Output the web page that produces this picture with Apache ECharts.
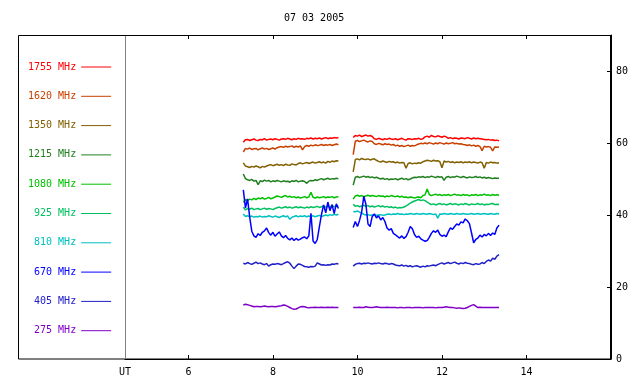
<!DOCTYPE html>
<html>
<head>
<meta charset="utf-8">
<script src="https://cdn.jsdelivr.net/npm/echarts@6/dist/echarts.min.js"></script>
<style>html,body{margin:0;padding:0;background:#fff}#c{width:640px;height:384px}</style>
</head>
<body>
<div id="c"></div>
<script>
// ---- data ----
var titleText = '07 03 2005';
var bandNames = ['1755 MHz','1620 MHz','1350 MHz','1215 MHz','1080 MHz','925 MHz','810 MHz','670 MHz','405 MHz','275 MHz'];
var bandColors = ['#ff0000','#c84000','#806000','#208020','#00c000','#00c060','#00c0c0','#0000ff','#2020c8','#8000c8'];
var xTickValues = [6, 8, 10, 12, 14];
var xTickLabels = ['6', '8', '10', '12', '14'];
var xUnitLabel = 'UT';
var yTickValues = [0, 20, 40, 60, 80];
var segA = [7.30, 9.55];   // UT hours, first observing segment
var segB = [9.90, 13.35];  // UT hours, second observing segment

var f1755a = [60.2,60.9,61.0,60.7,60.9,61.1,60.8,60.7,61.0,60.9,61.2,60.8,61.0,61.1,60.9,61.2,61.0,60.8,61.1,61.2,61.0,61.3,61.1,60.9,61.2,61.0,61.3,61.1,61.2,61.0,61.3,61.2,61.4,61.1,61.3,61.2,61.4,61.1,61.3,61.5,61.2,61.4,61.3,61.5,61.4,61.5];
var f1755b = [61.5,62.1,61.9,62.2,61.8,62.0,62.2,61.9,62.1,61.8,61.2,61.0,61.3,61.1,60.9,61.2,61.0,61.3,61.1,61.0,61.2,60.9,61.1,61.3,61.0,60.8,61.2,61.1,61.0,61.2,61.1,61.3,61.0,61.2,61.7,61.9,61.6,62.1,61.8,61.7,62.0,61.8,61.6,61.9,61.7,61.3,61.5,61.2,61.4,61.3,61.1,61.4,61.3,61.2,61.5,61.3,61.1,61.4,61.2,61.3,61.2,61.1,61.0,60.9,61.0,60.8,60.9,60.7,60.8,60.6];
var f1620a = [57.5,58.5,58.3,58.6,58.2,58.4,58.5,58.1,58.4,58.6,58.3,58.5,58.2,58.4,58.6,58.3,58.7,58.9,59.0,58.8,59.1,58.9,59.0,59.2,58.8,59.1,58.9,59.2,58.1,59.0,59.3,59.1,59.4,59.2,59.5,59.3,59.4,59.6,59.3,59.5,59.4,59.6,59.3,59.5,59.7,59.5];
var f1620b = [56.8,60.5,60.7,60.4,60.6,60.8,60.5,60.3,60.6,60.4,59.8,59.6,59.9,59.7,59.5,59.8,59.6,59.7,59.4,59.6,59.2,59.4,59.1,59.3,59.0,59.2,59.4,59.1,59.3,59.2,59.5,59.7,59.9,59.8,60.0,59.8,60.1,59.9,59.7,60.0,59.8,60.1,59.9,59.7,60.0,59.8,59.9,60.1,59.8,59.9,59.7,59.8,59.6,59.5,59.3,59.5,59.2,59.4,59.1,59.3,59.0,57.9,59.1,58.9,59.0,58.8,57.8,58.9,58.8,58.9];
var f1350a = [54.5,53.6,53.4,53.2,53.5,53.3,53.6,53.4,53.1,53.5,53.3,53.6,53.8,54.0,53.7,53.9,54.1,53.8,54.0,53.7,54.1,53.9,53.8,54.2,54.0,53.9,54.3,54.5,54.2,54.4,54.6,54.3,54.5,54.7,54.4,54.6,54.8,54.5,54.7,54.4,54.9,54.6,55.0,54.8,55.1,55.0];
var f1350b = [52.0,55.4,55.6,55.3,55.7,55.5,55.4,55.6,55.3,55.5,55.6,55.2,54.9,54.7,55.0,54.8,54.6,54.9,54.7,54.8,54.5,54.7,54.4,54.6,54.5,53.0,54.3,54.5,54.2,54.4,54.3,54.5,54.4,54.8,55.0,55.2,55.1,54.9,55.2,55.0,55.1,54.8,53.1,55.0,54.7,54.9,54.6,54.8,54.5,54.7,54.6,54.8,54.5,54.7,54.6,54.8,54.5,54.7,54.6,54.4,54.7,54.5,53.0,54.6,54.4,54.7,54.5,54.6,54.4,54.5];
var f1215a = [51.4,50.1,49.8,49.6,49.9,49.4,49.6,48.4,49.5,49.3,49.7,49.4,49.6,49.2,49.5,49.3,49.6,49.4,49.2,49.5,49.3,49.4,49.1,49.5,49.3,49.6,49.2,49.4,49.5,49.3,48.8,49.4,49.6,49.5,49.8,49.6,49.9,50.1,49.8,50.0,50.2,49.9,50.1,50.0,50.2,50.1];
var f1215b = [48.3,50.5,50.7,50.4,50.6,50.8,50.5,50.7,50.4,50.6,50.3,50.5,50.2,50.0,50.2,49.9,50.1,49.8,50.0,49.9,50.1,49.8,50.0,50.2,49.9,50.1,49.8,50.0,50.3,50.5,50.4,50.6,50.5,50.7,50.4,50.6,50.5,50.8,50.6,50.4,50.7,50.5,50.6,49.6,50.5,50.7,50.4,50.6,50.5,50.8,50.6,50.4,50.7,50.5,50.3,50.6,50.4,50.5,50.7,50.4,50.6,50.3,50.5,50.2,50.4,50.3,50.1,50.3,50.2,50.2];
var f1080a = [43.5,44.3,44.0,44.4,44.2,44.6,44.3,44.7,44.5,44.8,44.4,44.6,44.9,44.5,44.7,45.0,45.3,45.1,44.9,45.2,45.4,45.0,45.2,44.9,45.1,44.8,45.0,44.7,44.9,45.1,44.8,45.0,46.3,44.9,44.7,45.0,44.8,44.9,45.1,44.8,45.0,44.9,45.1,44.8,45.0,45.1];
var f1080b = [44.4,45.3,45.5,45.2,45.4,45.1,45.3,45.5,45.2,45.4,45.3,45.1,45.4,45.2,45.3,45.0,45.3,45.1,45.4,45.2,45.1,45.3,45.0,45.2,44.9,45.0,44.8,45.0,44.9,44.7,44.9,45.0,44.8,45.4,45.6,47.2,45.7,45.4,45.6,45.8,45.5,45.7,45.4,45.6,45.5,45.7,45.4,45.6,45.8,45.5,45.6,45.4,45.7,45.5,45.6,45.3,45.6,45.5,45.7,45.4,45.6,45.5,45.8,45.5,45.6,45.4,45.7,45.5,45.6,45.5];
var f925a = [42.2,41.4,41.8,41.6,41.9,41.5,41.7,41.8,41.5,41.7,41.9,41.6,41.8,41.7,41.5,41.8,42.0,42.2,41.9,42.1,42.3,42.0,42.2,41.9,42.1,42.3,42.0,42.2,42.1,41.9,42.2,42.0,42.3,42.1,42.2,42.4,42.1,42.3,42.5,42.2,42.4,42.1,42.6,42.3,42.5,42.4];
var f925b = [43.0,42.4,42.6,42.3,42.5,42.7,42.4,42.6,42.3,42.5,42.2,42.4,42.6,42.3,42.5,42.2,42.4,42.1,42.3,42.0,42.2,41.9,42.1,42.0,42.2,42.5,42.9,43.3,43.6,43.9,44.1,44.3,44.0,44.2,44.0,43.6,43.2,42.9,43.1,42.8,43.0,43.2,42.9,43.1,42.8,43.0,43.2,42.9,43.1,43.0,42.8,43.1,42.9,43.2,43.0,42.8,43.1,42.9,43.0,43.2,42.9,43.1,42.8,43.0,42.9,43.1,43.2,42.9,43.0,42.9];
var f810a = [40.3,39.6,39.8,39.5,39.7,39.4,39.6,39.5,39.7,39.4,39.6,39.5,39.8,39.6,39.4,39.7,39.5,39.3,39.6,39.8,39.5,39.7,38.8,39.4,39.6,39.8,39.5,39.7,39.6,39.8,39.5,39.7,39.6,39.8,39.5,39.7,39.9,39.6,39.8,40.0,39.8,40.1,39.9,40.2,40.0,40.2];
var f810b = [41.0,40.9,41.1,40.8,40.5,40.2,40.0,40.1,39.9,40.0,40.1,39.9,40.0,40.1,39.9,40.0,40.2,40.3,40.1,40.3,40.2,40.4,40.2,40.3,40.1,40.3,40.2,40.4,40.3,40.2,40.4,40.3,40.2,40.4,40.3,40.2,40.4,40.3,40.1,40.3,39.1,40.3,40.2,40.4,40.3,40.2,40.4,40.3,40.2,40.4,40.3,40.2,40.4,40.3,40.2,40.3,40.4,40.2,40.3,40.4,40.2,40.3,40.4,40.3,40.2,40.4,40.3,40.2,40.4,40.3];
var f670a = [47.0,42.0,44.5,39.5,35.5,34.2,33.8,34.8,34.3,35.2,35.6,36.4,35.1,34.4,35.2,34.1,34.7,35.3,34.2,33.7,34.3,33.5,33.1,33.6,32.9,33.5,33.0,33.3,33.7,33.9,33.4,34.2,40.5,32.8,32.1,33.2,36.8,40.2,42.8,40.6,43.6,41.2,42.9,40.4,43.1,41.8];
var f670b = [36.5,38.2,36.8,38.5,40.8,45.2,43.0,37.5,36.8,39.6,40.3,39.2,39.8,38.6,39.3,38.2,36.4,35.8,36.2,34.9,34.5,34.0,33.6,34.2,33.5,34.0,35.2,36.8,36.2,34.6,33.8,34.1,33.4,33.0,32.7,32.9,33.8,34.9,35.6,35.2,35.8,34.6,34.1,34.4,34.0,35.3,36.4,36.0,36.8,37.5,37.2,38.1,37.8,38.9,38.4,37.6,35.0,32.3,33.2,33.6,34.4,33.9,34.6,34.2,34.9,34.3,35.0,34.6,36.4,37.2];
var f405a = [26.6,26.4,26.8,26.5,26.3,26.6,26.9,26.5,26.7,26.4,26.2,26.5,25.8,26.2,26.4,26.3,26.5,26.4,26.2,26.5,26.8,27.0,26.6,25.8,25.1,25.8,26.4,26.3,26.0,25.7,25.6,25.5,25.7,25.6,25.8,26.7,26.4,26.1,26.2,26.0,26.2,26.1,26.4,26.3,26.5,26.4];
var f405b = [25.8,26.3,26.5,26.6,26.4,26.6,26.5,26.7,26.5,26.4,26.6,26.5,26.7,26.5,26.4,26.6,26.5,26.3,26.5,26.4,26.1,26.0,25.9,26.1,25.8,26.0,25.7,25.9,25.6,25.8,25.9,25.7,25.5,25.8,25.6,25.9,25.8,26.0,26.1,25.9,26.2,26.5,26.7,26.4,26.6,26.8,26.5,26.7,26.9,26.6,26.4,26.7,26.5,26.8,26.6,26.5,26.3,26.2,26.5,26.3,26.4,26.8,26.5,27.1,27.5,27.2,28.0,27.7,28.6,29.0];
var f275a = [15.0,15.2,15.1,14.9,14.7,14.5,14.6,14.6,14.5,14.6,14.7,14.6,14.5,14.6,14.6,14.5,14.6,14.7,14.8,15.0,14.9,14.6,14.3,14.0,13.8,13.9,14.2,14.5,14.6,14.5,14.3,14.2,14.3,14.3,14.4,14.3,14.3,14.4,14.3,14.3,14.4,14.3,14.4,14.3,14.3,14.3];
var f275b = [14.3,14.3,14.3,14.4,14.3,14.3,14.5,14.4,14.3,14.3,14.4,14.5,14.4,14.3,14.3,14.3,14.4,14.3,14.3,14.3,14.3,14.2,14.3,14.3,14.2,14.3,14.3,14.3,14.2,14.3,14.3,14.3,14.3,14.2,14.3,14.3,14.3,14.3,14.3,14.2,14.3,14.3,14.3,14.4,14.5,14.4,14.3,14.3,14.2,14.1,14.2,14.1,14.0,14.1,14.3,14.6,14.9,15.1,14.7,14.3,14.4,14.3,14.3,14.3,14.3,14.3,14.3,14.3,14.3,14.3];

var bandA = [f1755a,f1620a,f1350a,f1215a,f1080a,f925a,f810a,f670a,f405a,f275a];
var bandB = [f1755b,f1620b,f1350b,f1215b,f1080b,f925b,f810b,f670b,f405b,f275b];

// ---- build ----
function place(seg, vals, out) {
  var n = vals.length;
  for (var i = 0; i < n; i++) {
    out.push([seg[0] + (seg[1] - seg[0]) * i / (n - 1), vals[i]]);
  }
}
var series = bandNames.map(function (name, k) {
  var d = [];
  place(segA, bandA[k], d);
  d.push([(segA[1] + segB[0]) / 2, '-']);
  place(segB, bandB[k], d);
  return {
    name: name, type: 'line', data: d, symbol: 'none', showSymbol: false,
    connectNulls: false, xAxisIndex: 0, yAxisIndex: 0,
    lineStyle: { color: bandColors[k], width: 1.5 }, itemStyle: { color: bandColors[k] },
    emphasis: { disabled: true }, silent: true
  };
});

var font = '"DejaVu Sans Mono", monospace';
var chart = echarts.init(document.getElementById('c'), null, { renderer: 'canvas' });
chart.setOption({
  animation: false,
  backgroundColor: '#fff',
  title: {
    text: titleText, left: 279, top: 8,
    textStyle: { fontFamily: font, fontSize: 10, fontWeight: 'normal', color: '#000' }
  },
  legend: {
    orient: 'vertical', left: 23, top: 57, align: 'right',
    itemWidth: 30, itemHeight: 10, itemGap: 19.3,
    selectedMode: false,
    itemStyle: { opacity: 0 },
    lineStyle: { width: 1 },
    textStyle: { fontFamily: font, fontSize: 10, lineHeight: 10 },
    data: bandNames.map(function (n, k) { return { name: n, textStyle: { color: bandColors[k] } }; })
  },
  grid: { left: 125, right: 29, top: 35, bottom: 25, containLabel: false },
  xAxis: [{
    type: 'value', min: 4.5, max: 16, position: 'bottom',
    axisLine: { show: true, lineStyle: { color: '#000', width: 1 } },
    axisTick: { show: true, inside: true, length: 4, lineStyle: { color: '#000' }, customValues: xTickValues },
    axisLabel: {
      show: true, customValues: [4.5].concat(xTickValues), margin: 8,
      fontFamily: font, fontSize: 10, color: '#000',
      formatter: function (v) {
        if (Math.abs(v - 4.5) < 1e-6) return xUnitLabel;
        var i = xTickValues.indexOf(v);
        return i >= 0 ? xTickLabels[i] : '';
      }
    },
    splitLine: { show: false }
  }, {
    type: 'value', min: 4.5, max: 16, position: 'top',
    axisLine: { show: true, lineStyle: { color: '#000', width: 1 } },
    axisTick: { show: true, inside: true, length: 4, lineStyle: { color: '#000' }, customValues: xTickValues },
    axisLabel: { show: false },
    splitLine: { show: false }
  }],
  yAxis: [{
    type: 'value', min: 0, max: 90, position: 'right',
    axisLine: { show: true, lineStyle: { color: '#000', width: 1 } },
    axisTick: { show: true, inside: true, length: 4, lineStyle: { color: '#000' }, customValues: yTickValues.slice(1) },
    axisLabel: { show: true, customValues: yTickValues, margin: 5, fontFamily: font, fontSize: 10, color: '#000' },
    splitLine: { show: false }
  }],
  graphic: [
    { type: 'rect', shape: { x: 18.5, y: 35.5, width: 592, height: 323.5 }, style: { fill: null, stroke: '#000', lineWidth: 1 }, silent: true, z: 0 },
    { type: 'line', shape: { x1: 125.5, y1: 36, x2: 125.5, y2: 358 }, style: { stroke: '#808080', lineWidth: 1 }, silent: true, z: 0 }
  ],
  series: series
});
</script>
</body>
</html>
